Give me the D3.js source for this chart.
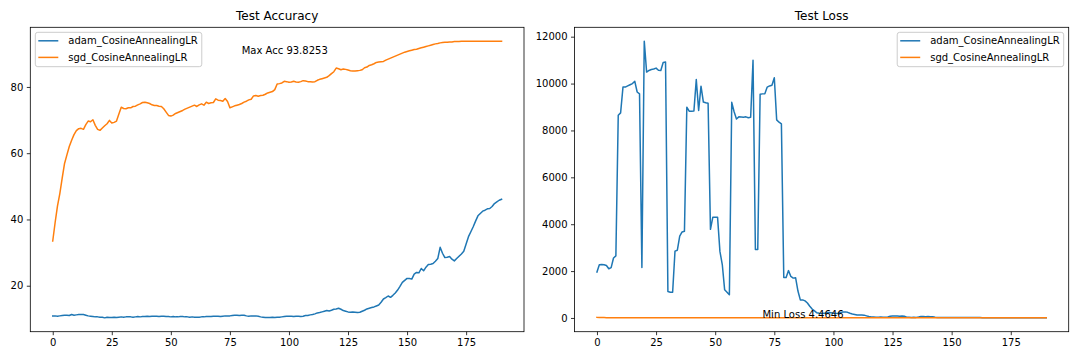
<!DOCTYPE html>
<html>
<head>
<meta charset="utf-8">
<script src="https://cdn.jsdelivr.net/npm/d3@7"></script>
<style>
  body { margin: 0; background: #fff; }
  svg { display: block; font-family: "DejaVu Sans", sans-serif; }
</style>
</head>
<body>
<svg id="chart" width="1080" height="360"></svg>
<script>
const seriesNames = ["adam_CosineAnnealingLR", "sgd_CosineAnnealingLR"];
const colors = ["#1f77b4", "#ff7f0e"];

const epochs = d3.range(191);
const xTicks = [0, 25, 50, 75, 100, 125, 150, 175];
const accTicks = [20, 40, 60, 80];
const lossTicks = [0, 2000, 4000, 6000, 8000, 10000, 12000];

const adamAcc = [
  10.9, 10.9, 10.8, 10.9, 11.0, 11.1, 11.1, 11.0, 11.3, 11.1,
  11.2, 11.3, 11.3, 11.3, 11.1, 10.9, 10.8, 10.7, 10.6, 10.6,
  10.5, 10.5, 10.3, 10.5, 10.4, 10.4, 10.5, 10.4, 10.5, 10.6,
  10.5, 10.6, 10.6, 10.6, 10.5, 10.6, 10.7, 10.6, 10.7, 10.7,
  10.8, 10.7, 10.8, 10.8, 10.8, 10.7, 10.8, 10.8, 10.7, 10.7,
  10.6, 10.7, 10.6, 10.6, 10.7, 10.7, 10.6, 10.6, 10.5, 10.6,
  10.5, 10.5, 10.5, 10.6, 10.6, 10.7, 10.7, 10.7, 10.8, 10.8,
  10.8, 10.7, 10.8, 10.9, 10.9, 10.9, 11.0, 11.1, 11.1, 11.0,
  11.1, 11.1, 10.9, 10.8, 10.9, 10.9, 10.9, 10.8, 10.6, 10.5,
  10.4, 10.4, 10.4, 10.5, 10.4, 10.5, 10.5, 10.6, 10.7, 10.8,
  10.8, 10.8, 10.7, 10.8, 10.8, 10.7, 10.8, 11.0, 11.0, 11.2,
  11.3, 11.5, 11.8, 11.9, 12.1, 12.3, 12.5, 12.4, 12.6, 12.9,
  13.0, 13.2, 12.9, 12.5, 12.3, 12.1, 12.0, 12.1, 12.0, 11.9,
  12.0, 12.3, 12.6, 13.0, 13.2, 13.4, 13.6, 13.9, 14.2, 15.0,
  16.0, 16.4, 16.9, 16.5, 17.1, 17.8, 18.7, 19.8, 21.0, 21.6,
  22.2, 22.2, 22.0, 23.5, 24.0, 23.9, 25.2, 24.5, 25.6, 26.4,
  26.5, 26.7, 27.4, 28.2, 31.6, 29.8, 28.5, 28.6, 28.8, 28.0,
  27.5, 28.2, 28.9, 29.6, 30.4, 32.6, 34.8, 36.3, 37.8, 39.5,
  41.1, 41.8, 42.5, 42.8, 43.2, 43.3, 43.9, 44.8, 45.3, 45.8,
  46.1
];

const sgdAcc = [
  33.5, 39.0, 44.0, 47.8, 52.5, 56.9, 59.5, 62.0, 63.9, 65.6,
  66.8, 67.4, 67.5, 67.2, 68.6, 69.7, 69.5, 70.1, 68.4, 67.2,
  66.9, 67.6, 68.3, 68.9, 69.9, 69.1, 69.3, 69.7, 71.8, 73.9,
  73.5, 73.4, 73.7, 73.7, 74.1, 74.2, 74.6, 74.9, 75.3, 75.4,
  75.2, 75.0, 74.6, 74.4, 74.4, 74.2, 74.1, 73.4, 72.4, 71.4,
  71.2, 71.5, 72.0, 72.3, 72.6, 72.9, 73.3, 73.6, 73.9, 74.2,
  74.5, 74.1, 74.6, 74.9, 74.5, 75.4, 75.0, 75.2, 75.3, 76.4,
  76.0, 75.9, 75.7, 76.5, 75.6, 73.7, 74.0, 74.3, 74.5, 74.7,
  75.0, 75.4, 75.7, 76.1, 76.3, 77.3, 77.4, 77.2, 77.4, 77.5,
  77.8, 78.2, 78.4, 78.6, 79.2, 80.9, 81.0, 81.2, 81.7, 81.6,
  81.4, 81.5, 81.7, 81.5, 81.4, 81.6, 81.9, 81.8, 81.6, 81.6,
  81.5, 81.6, 82.0, 82.3, 82.5, 82.7, 82.9, 83.4, 84.0, 84.6,
  85.7, 85.5, 85.2, 85.4, 85.3, 85.1, 84.9, 84.8, 84.8, 84.9,
  85.0, 85.2, 85.8, 86.0, 86.5, 86.7, 87.0, 87.4, 87.5, 87.6,
  87.7, 88.1, 88.4, 88.7, 89.0, 89.3, 89.6, 89.9, 90.2, 90.5,
  90.7, 90.9, 91.1, 91.3, 91.4, 91.6, 91.8, 92.0, 92.2, 92.4,
  92.6, 92.8, 93.0, 93.1, 93.3, 93.4, 93.5, 93.5, 93.6, 93.6,
  93.7, 93.7, 93.7, 93.8, 93.8, 93.8, 93.8, 93.8, 93.8, 93.82,
  93.8, 93.81, 93.8, 93.82, 93.81, 93.8, 93.82, 93.8, 93.81, 93.8253,
  93.8
];

const adamLoss = [
  1960, 2270, 2280, 2270, 2240, 2100, 2150, 2560, 2650, 8650,
  8750, 9850, 9850, 9900, 9950, 10000, 10095, 9640, 9560, 2150,
  11810, 10490, 10560, 10600, 10620, 10660, 10570, 10560, 10900, 10920,
  1130, 1100, 1100, 2850, 2890, 3490, 3670, 3700, 8990, 8820,
  8820, 8830, 10170, 8850, 9890, 9210, 9180, 9160, 3780, 4300,
  4300, 4300, 2840, 2280, 1200, 1100, 990, 9200, 8800, 8490,
  8580, 8570, 8560, 8580, 8540, 8560, 10990, 2920, 2920, 9540,
  9560, 9570, 9850, 9900, 9930, 10250, 8450, 8350, 8280, 1730,
  1730, 2020, 1770, 1700, 1720, 1150, 770, 770, 730, 640,
  500, 380, 300, 220, 200, 190, 200, 210, 230, 220,
  200, 190, 200, 230, 250, 260, 240, 200, 170, 150,
  130, 130, 130, 120, 90, 60, 40, 40, 35, 35,
  40, 35, 35, 40, 70, 80, 80, 80, 75, 80,
  70, 35, 30, 20, 30, 25, 40, 60, 60, 55,
  60, 55, 50, 30, 25, 25, 20, 20, 25, 20,
  20, 20, 15, 15, 15, 15, 15, 18, 20, 20,
  18, 16, 15, 14, 14, 12, 12, 12, 11, 11,
  10, 10, 10, 10, 9, 9, 9, 9, 9, 8,
  8, 8, 8, 8, 8, 8, 8, 8, 8, 8,
  8
];

const sgdLoss = [
  25.1, 19.8, 17.2, 15.3, 13.9, 12.8, 11.9, 11.2, 10.6, 10.2,
  9.9, 9.7, 9.6, 9.6, 9.3, 9.1, 9.0, 9.0, 9.4, 9.5,
  9.3, 9.2, 9.0, 8.9, 8.8, 8.9, 8.8, 8.7, 8.3, 8.1,
  8.1, 8.1, 8.0, 8.0, 7.9, 7.8, 7.8, 7.7, 7.6, 7.6,
  7.6, 7.7, 7.7, 7.7, 7.7, 7.8, 7.8, 7.9, 8.0, 8.2,
  8.2, 8.1, 8.0, 7.9, 7.9, 7.8, 7.7, 7.6, 7.6, 7.5,
  7.5, 7.5, 7.4, 7.4, 7.4, 7.3, 7.3, 7.3, 7.3, 7.1,
  7.1, 7.2, 7.1, 7.1, 7.1, 7.6, 7.5, 7.4, 7.4, 7.3,
  7.2, 7.1, 7.0, 6.9, 6.9, 6.7, 6.7, 6.7, 6.6, 6.6,
  6.5, 6.5, 6.4, 6.4, 6.3, 6.1, 6.0, 6.0, 5.9, 5.9,
  5.9, 5.9, 5.9, 5.9, 5.9, 5.8, 5.8, 5.8, 5.8, 5.8,
  5.8, 5.8, 5.8, 5.7, 5.7, 5.7, 5.6, 5.5, 5.4, 5.3,
  5.1, 5.1, 5.2, 5.1, 5.2, 5.2, 5.2, 5.3, 5.2, 5.2,
  5.2, 5.1, 5.1, 5.0, 5.0, 4.9, 4.9, 4.9, 4.8, 4.8,
  4.8, 4.8, 4.7, 4.7, 4.7, 4.7, 4.6, 4.6, 4.6, 4.6,
  4.6, 4.6, 4.6, 4.55, 4.55, 4.55, 4.54, 4.53, 4.52, 4.52,
  4.51, 4.51, 4.5, 4.5, 4.5, 4.49, 4.49, 4.49, 4.48, 4.48,
  4.48, 4.48, 4.47, 4.47, 4.47, 4.47, 4.47, 4.4646, 4.47, 4.47,
  4.47, 4.47, 4.47, 4.47, 4.47, 4.47, 4.47, 4.47, 4.47, 4.47,
  4.47
];

const svg = d3.select("#chart");
svg.append("rect").attr("width", 1080).attr("height", 360).attr("fill", "#fff");

// matplotlib-style 5% margins around the data
function padded(lo, hi) {
  const p = (hi - lo) * 0.05;
  return [lo - p, hi + p];
}

function drawPanel(opts) {
  const { left, right, top, bottom, title, series, yTicks, legend, note } = opts;
  const g = svg.append("g");

  const x = d3.scaleLinear()
    .domain(padded(0, epochs.length - 1))
    .range([left, right]);

  const all = series.flat();
  const y = d3.scaleLinear()
    .domain(padded(d3.min(all), d3.max(all)))
    .range([bottom, top]);

  const line = d3.line()
    .x((d, i) => x(epochs[i]))
    .y(d => y(d));

  series.forEach((s, k) => {
    g.append("path")
      .datum(s)
      .attr("fill", "none")
      .attr("stroke", colors[k])
      .attr("stroke-width", 1.5)
      .attr("stroke-linejoin", "round")
      .attr("stroke-linecap", "square")
      .attr("d", line);
  });

  const xAxis = g.append("g")
    .attr("transform", `translate(0,${bottom})`)
    .call(d3.axisBottom(x).tickValues(xTicks).tickSize(3.5).tickPadding(3.5).tickFormat(d3.format("d")));

  const yAxis = g.append("g")
    .attr("transform", `translate(${left},0)`)
    .call(d3.axisLeft(y).tickValues(yTicks).tickSize(3.5).tickPadding(3.5).tickFormat(d3.format("d")));

  [xAxis, yAxis].forEach(a => {
    a.select(".domain").remove();
    a.selectAll("line").attr("stroke", "#000").attr("stroke-width", 0.8);
    a.selectAll("text")
      .attr("fill", "#000")
      .style("font-size", "10px")
      .style("font-family", "'DejaVu Sans', sans-serif");
  });

  g.append("rect")
    .attr("x", left).attr("y", top)
    .attr("width", right - left).attr("height", bottom - top)
    .attr("fill", "none")
    .attr("stroke", "#000")
    .attr("stroke-width", 0.8);

  g.append("text")
    .attr("x", (left + right) / 2)
    .attr("y", top - 7.3)
    .attr("text-anchor", "middle")
    .style("font-size", "12px")
    .text(title);

  g.append("text")
    .attr("x", x(note.x))
    .attr("y", y(note.y))
    .style("font-size", "10px")
    .text(note.label);

  // legend
  const lg = g.append("g");
  const box = lg.append("rect")
    .attr("fill", "#fff")
    .attr("fill-opacity", 0.8)
    .attr("stroke", "#cccccc")
    .attr("stroke-width", 1)
    .attr("rx", 2.5);

  let maxW = 0;
  seriesNames.forEach((name, k) => {
    const rowY = 8.5 + k * 16.6;
    lg.append("line")
      .attr("x1", 3).attr("x2", 23)
      .attr("y1", rowY).attr("y2", rowY)
      .attr("stroke", colors[k])
      .attr("stroke-width", 1.5);
    const t = lg.append("text")
      .attr("x", 33)
      .attr("y", rowY + 3.6)
      .style("font-size", "10px")
      .text(name);
    maxW = Math.max(maxW, t.node().getComputedTextLength());
  });

  const boxW = 33 + maxW + 4;
  const boxH = 34.4;
  box.attr("x", 0).attr("y", 0).attr("width", boxW).attr("height", boxH);

  const lx = legend === "left" ? left + 5 : right - 5 - boxW;
  lg.attr("transform", `translate(${lx},${top + 5})`);
}

drawPanel({
  left: 30.3, right: 524, top: 27.3, bottom: 331.7,
  title: "Test Accuracy",
  series: [adamAcc, sgdAcc],
  yTicks: accTicks,
  legend: "left",
  note: { x: 80, y: 90, label: "Max Acc 93.8253" }
});

drawPanel({
  left: 574.5, right: 1068.7, top: 27.3, bottom: 331.7,
  title: "Test Loss",
  series: [adamLoss, sgdLoss],
  yTicks: lossTicks,
  legend: "right",
  note: { x: 70, y: 4.4646, label: "Min Loss 4.4646" }
});
</script>
</body>
</html>
